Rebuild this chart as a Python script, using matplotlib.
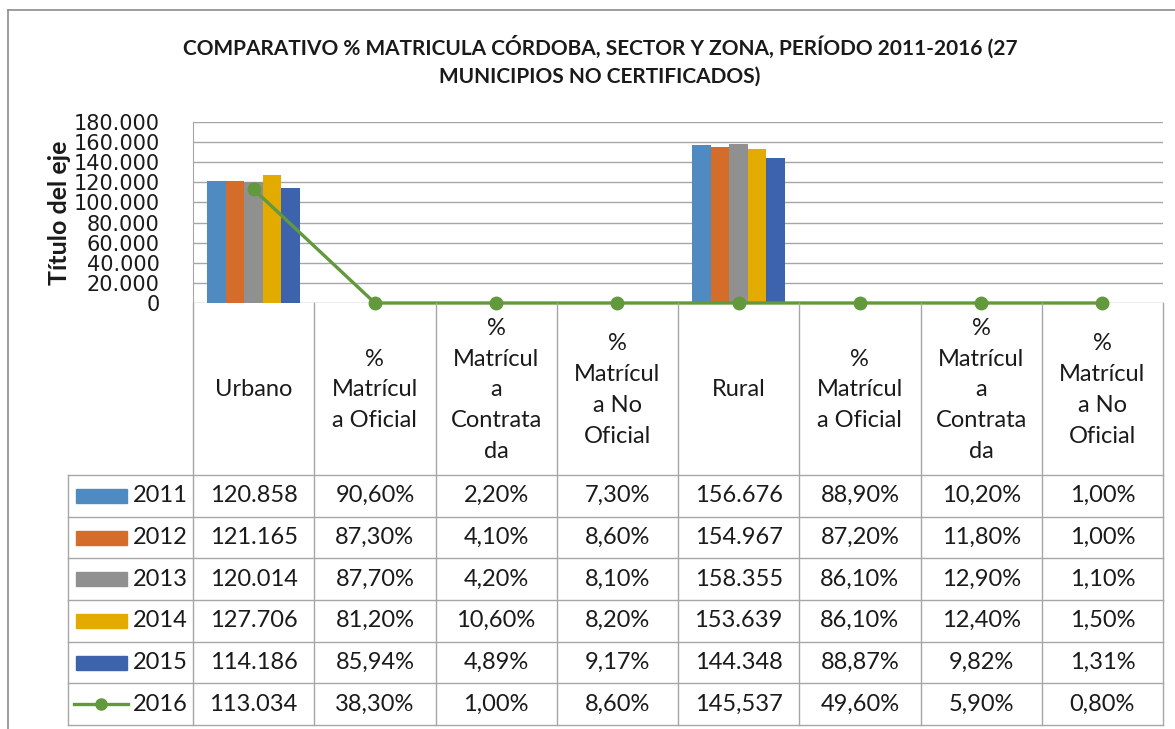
import numpy as np
import matplotlib
matplotlib.use("Agg")
from matplotlib import pyplot as plt
from matplotlib.lines import Line2D
from matplotlib.patches import Rectangle

# Data
categories = ["Urbano", "%\nMatrícul\na Oficial", "%\nMatrícul\na\nContrata\nda",
              "%\nMatrícul\na No\nOficial", "Rural", "%\nMatrícul\na Oficial",
              "%\nMatrícul\na\nContrata\nda", "%\nMatrícul\na No\nOficial"]
years = ["2011", "2012", "2013", "2014", "2015", "2016"]
values2011 = [120858, 0.906, 0.022, 0.073, 156676, 0.889, 0.102, 0.010]
values2012 = [121165, 0.873, 0.041, 0.086, 154967, 0.872, 0.118, 0.010]
values2013 = [120014, 0.877, 0.042, 0.081, 158355, 0.861, 0.129, 0.011]
values2014 = [127706, 0.812, 0.106, 0.082, 153639, 0.861, 0.124, 0.015]
values2015 = [114186, 0.8594, 0.0489, 0.0917, 144348, 0.8887, 0.0982, 0.0131]
# the rural 2016 cell was typed as text in the sheet, so it plots as 0
values2016 = [113034, 0.383, 0.010, 0.086, "145,537", 0.496, 0.059, 0.008]
countColumns = [0, 4]

barColors = ["#4F8BC0", "#D46D2A", "#909090", "#E3AB00", "#3D63AD"]
lineColor = "#62993C"
gridColor = "#A6A6A6"
textColor = "#1A1A1A"

plt.rcParams["font.family"] = ["Lato", "DejaVu Sans"]

W, H = 1175, 729
fig = plt.figure(figsize=(W / 100, H / 100), dpi=100)


def fx(px):
    return px / W


def fy(py):
    return 1 - py / H


def numeric(v):
    return 0 if isinstance(v, str) else v


def cellText(v, col):
    if isinstance(v, str):
        return v
    if col in countColumns:
        return f"{v:,.0f}".replace(",", ".")
    return f"{v * 100:.2f}%".replace(".", ",")


# Chart frame
fig.add_artist(Line2D([fx(8), fx(8)], [fy(10), fy(729)], color="#8C8C8C", lw=1.2))
fig.add_artist(Line2D([fx(8), fx(1175)], [fy(10), fy(10)], color="#8C8C8C", lw=1.2))

# Title
fig.text(fx(600), fy(47), "COMPARATIVO % MATRICULA CÓRDOBA, SECTOR Y ZONA, PERÍODO 2011-2016 (27",
         ha="center", va="center", fontsize=15, fontweight="bold", color=textColor)
fig.text(fx(600), fy(77), "MUNICIPIOS NO CERTIFICADOS)",
         ha="center", va="center", fontsize=15, fontweight="bold", color=textColor)

# Plot area
left, right, top, bottom = 193, 1163, 122, 303
ax = fig.add_axes([fx(left), fy(bottom), fx(right - left), fy(top) - fy(bottom)])
x = np.arange(len(categories))
barSeries = [values2011, values2012, values2013, values2014, values2015]
width = 0.153
for i, vals in enumerate(barSeries):
    ax.bar(x + (i - 2) * width, [numeric(v) for v in vals], width,
           color=barColors[i], zorder=2)
ax.plot(x, [numeric(v) for v in values2016], color=lineColor, lw=2.4,
        marker="o", markersize=9, zorder=3, clip_on=False)

ax.set_xlim(-0.5, len(categories) - 0.5)
ax.set_ylim(0, 180000)
ax.set_yticks(np.arange(0, 180001, 20000))
ax.set_yticklabels([f"{t:,}".replace(",", ".") for t in range(0, 180001, 20000)],
                   fontsize=15, fontfamily="DejaVu Sans", color=textColor)
ax.set_xticks([])
ax.tick_params(axis="y", length=0, pad=24)
ax.grid(axis="y", color=gridColor, lw=1, zorder=0)
for s in ["top", "right", "bottom"]:
    ax.spines[s].set_visible(False)
ax.spines["left"].set_color(gridColor)
ax.set_ylabel("Título del eje", fontsize=18, fontweight="bold", color=textColor)
ax.yaxis.set_label_coords(-0.126, 0.5)

# Data table
tableLeft, tableBottom = 68, 725
headerBottom = 475
rowH = (tableBottom - headerBottom) / len(years)
colW = (right - left) / len(categories)
lw = 1.0
tc = gridColor


def hline(y0, x0, x1):
    fig.add_artist(Line2D([fx(x0), fx(x1)], [fy(y0), fy(y0)], color=tc, lw=lw))


def vline(x0, y0, y1):
    fig.add_artist(Line2D([fx(x0), fx(x0)], [fy(y0), fy(y1)], color=tc, lw=lw))


for k in range(len(categories) + 1):
    vline(left + k * colW, bottom, tableBottom)
vline(tableLeft, headerBottom, tableBottom)
for r in range(len(years) + 1):
    hline(headerBottom + r * rowH, tableLeft, right)

for k, cat in enumerate(categories):
    fig.text(fx(left + (k + 0.5) * colW), fy(390), cat, ha="center", va="center",
             fontsize=17, linespacing=1.58, color=textColor)

allSeries = barSeries + [values2016]
for r, (yr, vals) in enumerate(zip(years, allSeries)):
    yc = headerBottom + (r + 0.5) * rowH
    if r < len(barSeries):
        fig.add_artist(Rectangle((fx(76), fy(yc + 7)), fx(51), fy(yc - 7) - fy(yc + 7),
                                 color=barColors[r]))
    else:
        fig.add_artist(Line2D([fx(74), fx(128)], [fy(yc), fy(yc)], color=lineColor, lw=2.4))
        fig.add_artist(Line2D([fx(101)], [fy(yc)], color=lineColor, marker="o",
                              markersize=8))
    fig.text(fx(160), fy(yc), yr, ha="center", va="center", fontsize=17, color=textColor)
    for k, v in enumerate(vals):
        fig.text(fx(left + (k + 0.5) * colW), fy(yc), cellText(v, k), ha="center",
                 va="center", fontsize=17, color=textColor)

fig.savefig("out.png", dpi=100)
